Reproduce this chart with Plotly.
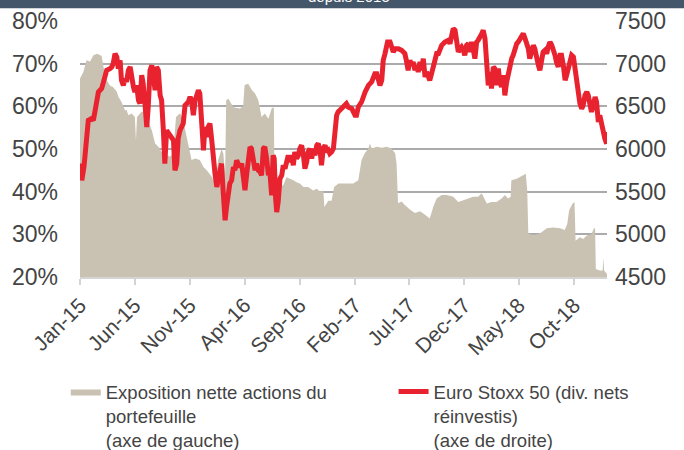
import pandas as pd
import plotly.graph_objects as go

# ---- data (days since 2015-01-01) ----
BASE = "2015-01-01"

expo_days = [0, 9, 18, 28, 37, 48, 60, 65, 74, 83, 92, 102, 106, 115, 125, 129, 134, 143, 152, 155,
             158, 171, 180, 189, 199, 208, 217, 226, 235, 249, 258, 266, 277, 286, 300, 309, 319, 332,
             342, 351, 365, 374, 383, 392, 397, 402, 405, 411, 425, 443, 452, 456, 466, 476, 485, 494,
             503, 512, 522, 531, 537, 539, 563, 572, 582, 591, 600, 609, 619, 632, 646, 656, 665, 674,
             677, 688, 697, 704, 716, 729, 743, 757, 771, 780, 789, 799, 803, 808, 822, 836, 850, 863,
             873, 877, 881, 891, 900, 914, 928, 942, 956, 969, 979, 988, 1002, 1016, 1034, 1048, 1062,
             1076, 1089, 1103, 1113, 1127, 1140, 1154, 1168, 1177, 1186, 1193, 1195, 1210, 1224, 1235,
             1239, 1242, 1256, 1274, 1293, 1311, 1330, 1343, 1350, 1355, 1365, 1370, 1373, 1385, 1394,
             1404, 1417, 1424, 1427, 1429, 1440, 1448, 1450, 1452, 1460]
expo_pct = [66.5, 68, 70.8, 70.5, 72, 72.3, 71.8, 69.2, 66.1, 64.9, 64.5, 63.4, 62.3, 61, 59, 59.2, 57.9,
            58.3, 57.5, 52, 57.5, 58.8, 58.4, 56.7, 54.4, 51.3, 50.5, 49.3, 49, 48.2, 49, 57.5, 58.4, 56.7,
            51, 47.4, 47.8, 47.4, 45.8, 45, 43.5, 42, 47.4, 50, 49, 44, 61.4, 61.8, 59.8, 59.5, 60, 65,
            65.3, 63.8, 63, 61.4, 57.5, 58.3, 57.1, 59.5, 59.8, 41, 41.5, 43.4, 43, 42.7, 42.2, 41.9, 41.1,
            41.1, 40.3, 40.7, 40, 40.3, 36.4, 37.9, 37.9, 41.1, 41.9, 41.9, 42, 41.9, 42.7, 47.4, 49, 50.1,
            51.3, 50.1, 50.5, 50.3, 50.5, 50.1, 49, 46.6, 37.3, 37.7, 36.9, 35.8, 35, 35.4, 34.6, 33.7,
            36.5, 38.4, 39.2, 39.2, 38.8, 37.6, 38, 38.4, 38.8, 38.8, 39.6, 37.2, 37.6, 37.6, 38.4, 39.2,
            38.4, 38.8, 42.7, 43, 43.6, 44.2, 40.3, 30.2, 29.8, 30.2, 31.4, 31.6, 31.4, 31, 32.5, 35.6,
            37.3, 37.5, 28.5, 29.3, 28.9, 29.7, 30, 31.5, 31.3, 21.9, 21.5, 21.5, 24.5, 21.5, 20.7]

stoxx_days = [0, 5, 11, 18, 23, 32, 37, 42, 51, 60, 65, 74, 83, 88, 92, 97, 102, 106, 111, 115, 120, 125,
              129, 134, 139, 143, 148, 152, 157, 162, 166, 171, 175, 180, 185, 189, 194, 199, 203, 208,
              212, 217, 222, 226, 231, 235, 240, 249, 259, 263, 268, 272, 277, 286, 291, 300, 305, 309,
              314, 319, 323, 328, 332, 337, 342, 346, 351, 355, 360, 365, 369, 374, 379, 383, 388, 392,
              397, 402, 406, 411, 415, 420, 425, 429, 434, 438, 443, 448, 452, 457, 462, 466, 471, 475,
              480, 485, 489, 494, 499, 503, 508, 512, 517, 522, 526, 531, 535, 538, 542, 545, 549, 554,
              559, 563, 568, 572, 577, 582, 586, 591, 595, 600, 605, 609, 614, 619, 623, 628, 632, 637,
              642, 646, 651, 656, 660, 665, 669, 674, 679, 683, 688, 692, 697, 702, 706, 711, 715, 720,
              725, 729, 734, 738, 743, 753, 762, 766, 771, 780, 790, 799, 808, 817, 822, 826, 831, 836,
              840, 845, 849, 852, 859, 863, 868, 873, 882, 891, 900, 905, 909, 914, 919, 923, 928, 932,
              937, 942, 946, 951, 956, 960, 965, 969, 974, 979, 983, 988, 993, 1002, 1011, 1020, 1025,
              1030, 1034, 1039, 1043, 1048, 1053, 1057, 1062, 1066, 1071, 1076, 1080, 1085, 1089, 1094,
              1099, 1103, 1113, 1117, 1122, 1126, 1131, 1136, 1140, 1145, 1149, 1154, 1159, 1163, 1168,
              1173, 1177, 1182, 1186, 1191, 1196, 1200, 1205, 1210, 1214, 1219, 1223, 1228, 1233, 1242,
              1246, 1251, 1256, 1260, 1265, 1270, 1274, 1279, 1283, 1288, 1293, 1297, 1302, 1307, 1311,
              1316, 1320, 1325, 1330, 1334, 1339, 1344, 1348, 1353, 1357, 1362, 1367, 1371, 1376, 1380,
              1385, 1390, 1394, 1399, 1404, 1408, 1413, 1417, 1422, 1427, 1431, 1436, 1440, 1445, 1450,
              1454, 1459, 1461]
stoxx_val = [5829, 5633, 5789, 6219, 6336, 6356, 6336, 6453, 6668, 6708, 6805, 6922, 6942, 6961, 7001,
             7118, 7078, 6942, 7039, 6805, 6746, 6825, 6786, 6922, 6961, 6805, 6727, 6668, 6746, 6571,
             6532, 6864, 6766, 6532, 6258, 6492, 6922, 6981, 6883, 6688, 6961, 6922, 6629, 6571, 6219,
             5829, 6219, 6161, 6102, 5750, 5829, 6122, 6219, 6298, 6512, 6551, 6610, 6571, 6395, 6571,
             6610, 6688, 6649, 6375, 5985, 6258, 6141, 6258, 6298, 6102, 5829, 5711, 5555, 5633, 5789,
             5829, 5477, 5164, 5320, 5555, 5594, 5633, 5789, 5750, 5867, 5829, 5789, 5829, 5711, 5516,
             5711, 5867, 6024, 6005, 5867, 5750, 5829, 5750, 5730, 5692, 6005, 6024, 5887, 5692, 5730,
             5457, 5926, 5887, 5419, 5261, 5379, 5653, 5692, 5809, 5770, 5848, 5926, 5848, 5926, 5809,
             5965, 5887, 5926, 6005, 6043, 5926, 5770, 5848, 5965, 6005, 5887, 6005, 5926, 6043, 6063,
             5985, 5809, 6005, 6043, 5965, 5985, 5946, 5965, 6005, 6278, 6395, 6434, 6453, 6473, 6492,
             6512, 6531, 6492, 6473, 6395, 6395, 6492, 6551, 6668, 6746, 6786, 6883, 6883, 6805, 6746,
             6805, 7039, 7118, 7176, 7254, 7254, 7176, 7137, 7176, 7176, 7157, 7118, 7020, 6922, 7039,
             6981, 7020, 6922, 6981, 6903, 7020, 6922, 7059, 6844, 6903, 6864, 6805, 6883, 6961, 7078,
             7118, 7118, 7215, 7254, 7274, 7235, 7332, 7411, 7391, 7294, 7137, 7176, 7196, 7157, 7098,
             7215, 7235, 7137, 7254, 7176, 7059, 7254, 7274, 7352, 7391, 7294, 7039, 6746, 6903, 6708,
             6961, 6942, 6746, 6942, 6786, 6727, 6864, 6629, 6786, 6883, 6942, 7059, 7098, 7176, 7235,
             7254, 7294, 7332, 7352, 7294, 7176, 7059, 7118, 7215, 7176, 7039, 6981, 6922, 7059, 7137,
             7157, 7118, 7196, 7254, 7215, 7176, 7098, 7020, 6961, 7098, 7098, 6981, 6805, 6864, 6942,
             7039, 7098, 7078, 6942, 6786, 6590, 6532, 6473, 6512, 6629, 6668, 6629, 6512, 6434, 6512,
             6610, 6551, 6316, 6395, 6278, 6219, 6122, 6063, 6200]

tick_dates = ["2015-01-01", "2015-06-01", "2015-11-01", "2016-04-01", "2016-09-01",
              "2017-02-01", "2017-07-01", "2017-12-01", "2018-05-01", "2018-10-01"]
tick_labels = ["Jan-15", "Jun-15", "Nov-15", "Apr-16", "Sep-16",
               "Feb-17", "Jul-17", "Dec-17", "May-18", "Oct-18"]

left_ticks = [20, 30, 40, 50, 60, 70, 80]
left_labels = ["20%", "30%", "40%", "50%", "60%", "70%", "80%"]
right_ticks = [4500, 5000, 5500, 6000, 6500, 7000, 7500]

name_expo = "Exposition nette actions du<br>portefeuille<br>(axe de gauche)"
name_stoxx = "Euro Stoxx 50 (div. nets<br>réinvestis)<br>(axe de droite)"

base = pd.Timestamp(BASE)
expo_x = base + pd.to_timedelta(expo_days, unit="D")
stoxx_x = base + pd.to_timedelta(stoxx_days, unit="D")

FONT = "Liberation Sans, Arial, sans-serif"
TXT = "#444444"

fig = go.Figure()
fig.add_trace(go.Scatter(
    x=expo_x, y=expo_pct, name=name_expo, mode="lines",
    line=dict(width=0, color="#C9C2B2"), fill="tozeroy", fillcolor="#C9C2B2",
    yaxis="y", legend="legend", hoverinfo="skip"))
fig.add_trace(go.Scatter(
    x=stoxx_x, y=stoxx_val, name=name_stoxx, mode="lines",
    line=dict(width=5, color="#E8232F"), yaxis="y2", legend="legend2"))

legend_common = dict(orientation="v", xanchor="left", yanchor="top", valign="top",
                     font=dict(size=18.5, color=TXT, family=FONT),
                     bgcolor="rgba(0,0,0,0)")

fig.update_layout(
    width=684, height=450,
    margin=dict(l=80, r=77, t=21, b=173, pad=0, autoexpand=False),
    paper_bgcolor="white", plot_bgcolor="white",
    font=dict(family=FONT, color=TXT),
    showlegend=True,
    legend=dict(x=-0.027, y=-0.375, **legend_common),
    legend2=dict(x=0.595, y=-0.375, **legend_common),
    xaxis=dict(type="date", range=["2015-01-01", "2018-12-31"],
               tickvals=tick_dates, ticktext=tick_labels, tickangle=-45,
               tickfont=dict(size=21, color=TXT), showgrid=False,
               showline=True, linecolor="#D4D4D4", linewidth=1.5,
               ticks="outside", ticklen=6, tickcolor="#D4D4D4", tickwidth=1.5),
    yaxis=dict(range=[20, 80], tickvals=left_ticks, ticktext=left_labels,
               tickfont=dict(size=23, color=TXT), showgrid=True,
               gridcolor="#ABABAB", gridwidth=1.5, zeroline=False,
               ticklabelstandoff=21),
    yaxis2=dict(range=[4500, 7500], tickvals=right_ticks, overlaying="y",
                side="right", tickfont=dict(size=23, color=TXT),
                showgrid=False, zeroline=False, ticklabelstandoff=7),
    shapes=[dict(type="rect", xref="paper", yref="paper",
                 x0=-0.16, x1=1.16, y0=1.0496, y1=1.2,
                 fillcolor="#43566A", line=dict(width=0), layer="above")],
    annotations=[dict(text="depuis 2015", xref="paper", yref="paper",
                      x=0.51, y=1.0535, xanchor="center", yanchor="bottom",
                      showarrow=False, font=dict(size=15, color="white", family=FONT))],
)

fig.write_html("out.html", config={"displayModeBar": False},
               post_script="document.body.style.margin='0px';")
